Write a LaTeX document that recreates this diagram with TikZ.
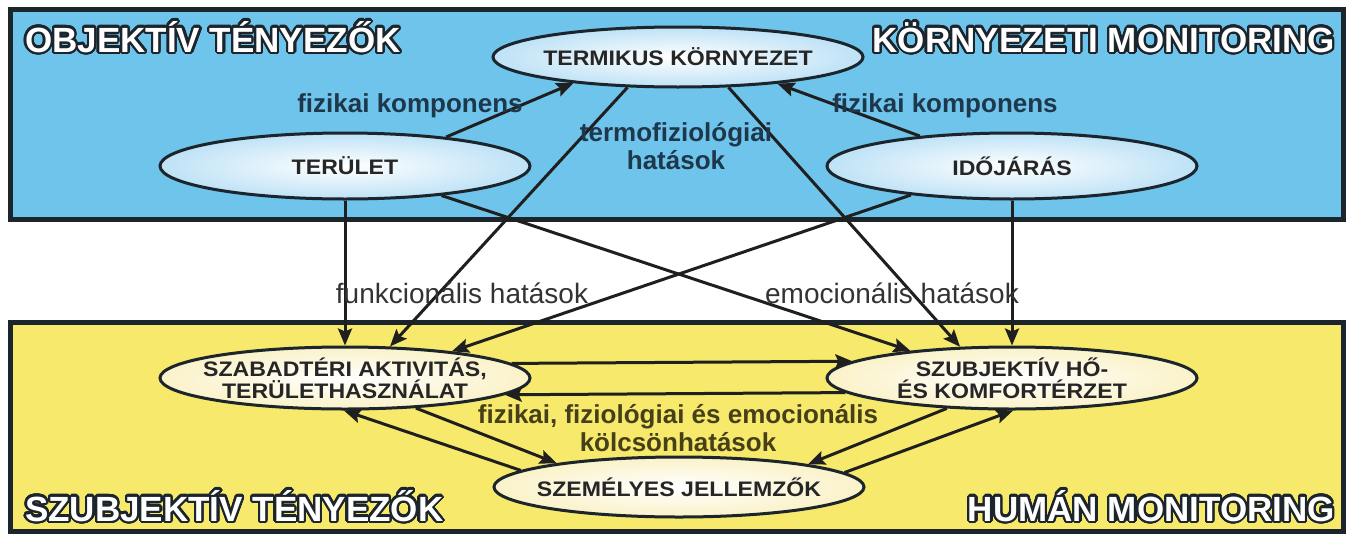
\documentclass[tikz,border=0pt]{standalone}
\usepackage{fontspec}
\setmainfont{Liberation Sans}
\newfontfamily\ovalfont[FakeStretch=1.1]{Liberation Sans}
\usepackage[copies]{contour}
\contourlength{2.2pt}
\contournumber{32}
\usetikzlibrary{shapes.geometric,arrows.meta}
\tikzset{>={Stealth[length=17pt,width=14pt,inset=3pt]}}
\definecolor{skyFill}{RGB}{110,196,234}
\definecolor{sunFill}{RGB}{247,233,108}
\definecolor{frameColor}{RGB}{28,36,44}
\definecolor{ovalBlue}{RGB}{190,226,246}
\definecolor{ovalCream}{RGB}{250,242,200}
\definecolor{topText}{RGB}{30,55,75}
\definecolor{lowText}{RGB}{70,64,25}
\colorlet{penColor}{black!88}
\newcommand{\heading}[1]{\contour{frameColor}{#1}}
\tikzset{
  box/.style={draw=frameColor, line width=5pt},
  oval/.style={ellipse, draw=frameColor, line width=3pt, minimum width=370pt, inner sep=0pt},
  ovaltext/.style={font=\ovalfont\bfseries\fontsize{21}{22}\selectfont, text=black!85, align=center},
  link/.style={->, draw=penColor, line width=3pt},
  linktext/.style={font=\bfseries\fontsize{26}{28}\selectfont, align=center},
  midtext/.style={font=\fontsize{28}{30}\selectfont, text=black!80},
  headline/.style={font=\bfseries\fontsize{35}{40}\selectfont, text=white, inner sep=0pt}
}

\begin{document}
\begin{tikzpicture}[x=1pt,y=-1pt]
    \fill[white] (0,0) rectangle (1351,533);
    \useasboundingbox (0,0) rectangle (1351,533);
    \draw[box, fill=skyFill] (10,9) rectangle (1343,219);
    \draw[box, fill=sunFill] (10,322) rectangle (1343,531);
    \node[headline, anchor=base west] (objtitle) at (25,52) {\heading{OBJEKTÍV TÉNYEZŐK}};
    \node[headline, anchor=base east] (envtitle) at (1335,52) {\heading{KÖRNYEZETI MONITORING}};
    \node[headline, anchor=base west] (subtitle) at (25,521) {\heading{SZUBJEKTÍV TÉNYEZŐK}};
    \node[headline, anchor=base east] (humtitle) at (1335,521) {\heading{HUMÁN MONITORING}};
    \node[oval, minimum height=60pt, inner color=white, outer color=ovalBlue,
      label={[ovaltext]center:{TERMIKUS KÖRNYEZET}}] (termikus) at (678,57) {};
    \node[oval, minimum height=66pt, inner color=white, outer color=ovalBlue,
      label={[ovaltext]center:{TERÜLET}}] (terulet) at (345,166) {};
    \node[oval, minimum height=66pt, inner color=white, outer color=ovalBlue,
      label={[ovaltext]center:{IDŐJÁRÁS}}] (idojaras) at (1012,166) {};
    \node[oval, minimum height=62pt, inner color=white, outer color=ovalCream,
      label={[ovaltext]center:{SZABADTÉRI AKTIVITÁS,\\TERÜLETHASZNÁLAT}}] (szabad) at (345,378) {};
    \node[oval, minimum height=62pt, inner color=white, outer color=ovalCream,
      label={[ovaltext]center:{SZUBJEKTÍV HŐ-\\ÉS KOMFORTÉRZET}}] (szubj) at (1012,378) {};
    \node[oval, minimum height=60pt, inner color=white, outer color=ovalCream,
      label={[ovaltext]center:{SZEMÉLYES JELLEMZŐK}}] (szemely) at (679,487) {};
    \draw[link] (terulet.16.6) -- (termikus.194.5);
    \draw[link] (idojaras.162.8) -- (termikus.345.5);
    \draw[link] (termikus.211) -- (szabad.35.7);
    \draw[link] (termikus.329.5) -- (szubj.149.2);
    \draw[link] (terulet.south) -- (szabad.north);
    \draw[link] (terulet.343.4) -- (szubj.165.9);
    \draw[link] (idojaras.196.8) -- (szabad.14.6);
    \draw[link] (idojaras.south) -- (szubj.north);
    \draw[link] (szabad.5.3) -- (szubj.174.7);
    \draw[link] (szubj.185.3) -- (szabad.354.7);
    \draw[link] (szabad.337.4) -- (szemely.169.5);
    \draw[link] (szemely.174.3) -- (szabad.268);
    \draw[link] (szubj.205.2) -- (szemely.10.2);
    \draw[link] (szemely.5.7) -- (szubj.272);
    \node[linktext, text=topText, anchor=base] (komp1) at (410,112) {fizikai komponens};
    \node[linktext, text=topText, anchor=base] (komp2) at (945,112) {fizikai komponens};
    \node[linktext, text=topText] (termo) at (676,146) {termofiziológiai\\hatások};
    \node[midtext, anchor=base] (funk) at (462,303) {funkcionális hatások};
    \node[midtext, anchor=base] (emoc) at (892,303) {emocionális hatások};
    \node[linktext, text=lowText] (kolcs) at (678,428) {fizikai, fiziológiai és emocionális\\kölcsönhatások};
\end{tikzpicture}
\end{document}
